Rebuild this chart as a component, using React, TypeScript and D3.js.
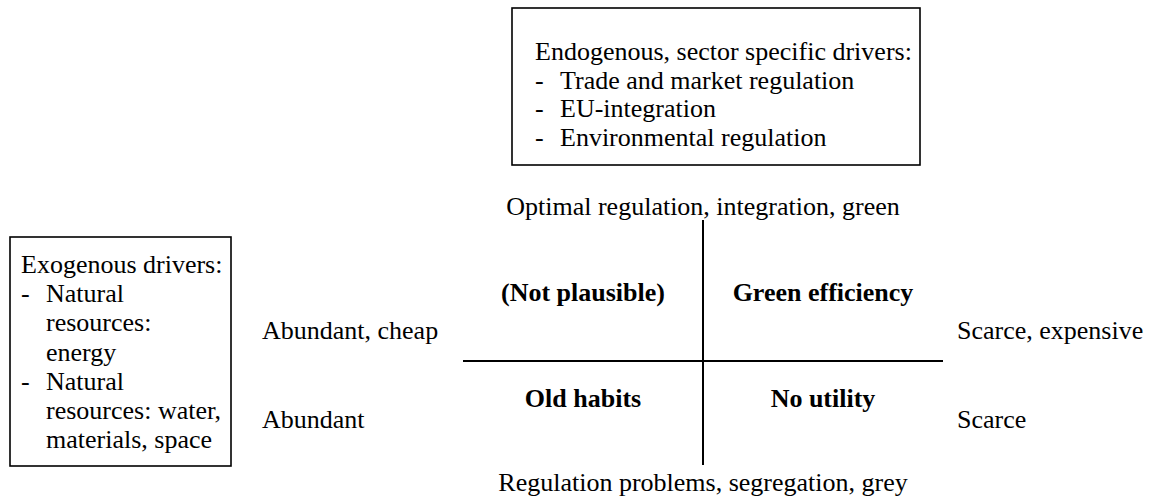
import React from "react";
import * as d3 from "d3";

const W = 1168;
const H = 499;

// Text content
const endoTitle = "Endogenous, sector specific drivers:";
const endoItems = ["Trade and market regulation", "EU-integration", "Environmental regulation"];
const exoTitle = "Exogenous drivers:";
const exoItems = [
  ["Natural", "resources:", "energy"],
  ["Natural", "resources: water,", "materials, space"],
];
const quadrantLabels = [
  { col: -1, row: 1, text: "(Not plausible)" },
  { col: 1, row: 1, text: "Green efficiency" },
  { col: -1, row: -1, text: "Old habits" },
  { col: 1, row: -1, text: "No utility" },
];
const axisTop = "Optimal regulation, integration, green";
const axisBottom = "Regulation problems, segregation, grey";
const leftLabels = ["Abundant, cheap", "Abundant"];
const rightLabels = ["Scarce, expensive", "Scarce"];

const FONT = "'Liberation Serif', 'Times New Roman', serif";
const FS = 26;

export default function App() {
  // quadrant scales
  const x = d3.scaleLinear().domain([-2, 2]).range([463, 943]);
  const y = d3.scaleLinear().domain([-1, 1]).range([407, 301]);
  const lineY = 361;
  const vTop = 220;
  const vBottom = 465;
  const rowBaselines = [339, 428];

  const endoLines: { dash: boolean; text: string }[] = [
    { dash: false, text: endoTitle },
    ...endoItems.map((t) => ({ dash: true, text: t })),
  ];
  const exoLines: { dash: boolean; text: string }[] = [{ dash: false, text: exoTitle }];
  exoItems.forEach((item) => {
    item.forEach((t, i) => exoLines.push({ dash: i === 0, text: t }));
  });

  const endoBox = { x: 512, y: 8, w: 408, h: 157, tx: 535, indent: 25, first: 60, lh: 28.5 };
  const exoBox = { x: 10, y: 237, w: 221, h: 229, tx: 21, indent: 25, first: 273, lh: 29.2 };

  const renderBox = (b: typeof endoBox, lines: { dash: boolean; text: string }[], key: string) => (
    <g key={key}>
      <rect x={b.x} y={b.y} width={b.w} height={b.h} fill="none" stroke="#000" strokeWidth={1.6} />
      {lines.map((l, i) => {
        const yy = b.first + i * b.lh;
        const isTitle = i === 0;
        return (
          <g key={i}>
            {l.dash && (
              <text x={b.tx} y={yy}>
                -
              </text>
            )}
            <text x={isTitle ? b.tx : b.tx + b.indent} y={yy}>
              {l.text}
            </text>
          </g>
        );
      })}
    </g>
  );

  return (
    <svg
      width={W}
      height={H}
      style={{ position: "absolute", left: 0, top: 0, background: "#fff" }}
      fontFamily={FONT}
      fontSize={FS}
      fill="#000"
    >
      <rect x={0} y={0} width={W} height={H} fill="#fff" />
      {renderBox(endoBox, endoLines, "endo")}
      {renderBox(exoBox, exoLines, "exo")}

      {/* axes */}
      <line x1={x(0)} x2={x(0)} y1={vTop} y2={vBottom} stroke="#000" strokeWidth={2} />
      <line x1={x(-2)} x2={x(2)} y1={lineY} y2={lineY} stroke="#000" strokeWidth={2} />

      <text x={x(0)} y={215} textAnchor="middle">
        {axisTop}
      </text>
      <text x={x(0)} y={491} textAnchor="middle">
        {axisBottom}
      </text>

      {quadrantLabels.map((q) => (
        <text key={q.text} x={x(q.col)} y={y(q.row)} textAnchor="middle" fontWeight="bold">
          {q.text}
        </text>
      ))}

      {leftLabels.map((t, i) => (
        <text key={t} x={262} y={rowBaselines[i]}>
          {t}
        </text>
      ))}
      {rightLabels.map((t, i) => (
        <text key={t} x={957} y={rowBaselines[i]}>
          {t}
        </text>
      ))}
    </svg>
  );
}
